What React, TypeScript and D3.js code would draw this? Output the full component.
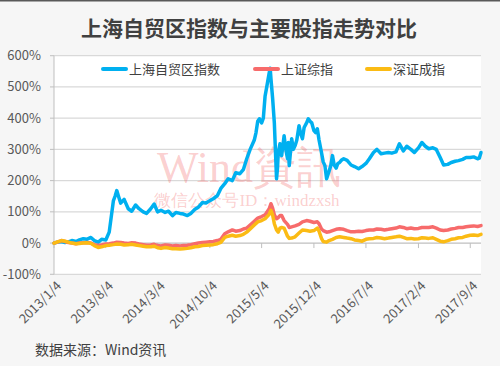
import React from "react";
import * as d3 from "d3";

const WIDTH = 500;
const HEIGHT = 366;
const PLOT = { left: 54, right: 481, top: 55.7, bottom: 274.3 };
const FONT = "'Noto Sans CJK SC', 'Noto Sans', sans-serif";

const TITLE = "上海自贸区指数与主要股指走势对比";
const SOURCE = "数据来源：Wind资讯";
const seriesNames = ["上海自贸区指数", "上证综指", "深证成指"];
const seriesColors = ["#00B0F0", "#F76B6B", "#FBBB14"];

const yTicks = [-100, 0, 100, 200, 300, 400, 500, 600];
const xTickDates = [
  "2013-01-04", "2013-08-04", "2014-03-04", "2014-10-04", "2015-05-04",
  "2015-12-04", "2016-07-04", "2017-02-04", "2017-09-04",
];

// 上海自贸区指数, cumulative change in %
const ftzDates = [
  "2013-01-04", "2013-01-18", "2013-02-04", "2013-02-18", "2013-03-04", "2013-03-18",
  "2013-04-04", "2013-04-18", "2013-05-04", "2013-05-18", "2013-06-04", "2013-06-18",
  "2013-07-04", "2013-07-18", "2013-08-04", "2013-08-18", "2013-09-04", "2013-09-11",
  "2013-09-18", "2013-09-25", "2013-10-04", "2013-10-18", "2013-11-04", "2013-11-18",
  "2013-12-04", "2013-12-18", "2014-01-04", "2014-01-18", "2014-02-04", "2014-02-18",
  "2014-03-04", "2014-03-18", "2014-04-04", "2014-04-18", "2014-05-04", "2014-05-18",
  "2014-06-04", "2014-06-18", "2014-07-04", "2014-07-18", "2014-08-04", "2014-08-18",
  "2014-09-04", "2014-09-18", "2014-10-04", "2014-10-18", "2014-11-04", "2014-11-18",
  "2014-12-04", "2014-12-18", "2015-01-04", "2015-01-18", "2015-02-04", "2015-02-18",
  "2015-03-04", "2015-03-18", "2015-04-04", "2015-04-11", "2015-04-18", "2015-04-25",
  "2015-05-04", "2015-05-11", "2015-05-18", "2015-05-25", "2015-06-04", "2015-06-08",
  "2015-06-11", "2015-06-18", "2015-06-25", "2015-07-04", "2015-07-08", "2015-07-11",
  "2015-07-18", "2015-07-25", "2015-08-04", "2015-08-11", "2015-08-18", "2015-08-21",
  "2015-08-25", "2015-09-04", "2015-09-11", "2015-09-18", "2015-09-25", "2015-10-04",
  "2015-10-11", "2015-10-18", "2015-10-25", "2015-11-04", "2015-11-11", "2015-11-18",
  "2015-11-25", "2015-12-04", "2015-12-11", "2015-12-18", "2015-12-25", "2016-01-04",
  "2016-01-11", "2016-01-18", "2016-01-25", "2016-02-04", "2016-02-11", "2016-02-18",
  "2016-02-25", "2016-03-04", "2016-03-11", "2016-03-18", "2016-03-25", "2016-04-04",
  "2016-04-18", "2016-05-04", "2016-05-18", "2016-06-04", "2016-06-18", "2016-07-04",
  "2016-07-18", "2016-08-04", "2016-08-18", "2016-09-04", "2016-09-18", "2016-10-04",
  "2016-10-18", "2016-11-04", "2016-11-18", "2016-12-04", "2016-12-18", "2017-01-04",
  "2017-01-18", "2017-02-04", "2017-02-18", "2017-03-04", "2017-03-18", "2017-04-04",
  "2017-04-18", "2017-05-04", "2017-05-18", "2017-06-04", "2017-06-18", "2017-07-04",
  "2017-07-18", "2017-08-04", "2017-08-18", "2017-09-04", "2017-09-18", "2017-10-04",
  "2017-10-11", "2017-10-18",
];
const ftzValues = [
  0, 3, 5, 2, 4, 8,
  5, 10, 14, 12, 18, 8,
  3, 12, 10, 35, 135, 150,
  168, 150, 128, 140, 110, 102,
  122, 110, 100, 95, 110, 125,
  100, 105, 98, 102, 88, 98,
  95, 93, 88, 95, 108, 115,
  130, 128, 136, 142, 152, 175,
  190, 206, 200, 225, 222, 235,
  270, 300, 330, 354, 390, 398,
  385, 400, 470, 500, 545, 560,
  527, 463, 385, 206, 240, 290,
  318, 280, 344, 300, 270, 322,
  248, 334, 300, 312, 330, 376,
  350, 334, 370, 385, 398, 390,
  385, 360, 354, 366, 330, 290,
  260, 248, 206, 230, 248, 280,
  250, 240, 255, 258, 265, 270,
  265, 250, 245, 238, 245, 255,
  270, 290, 300, 286, 288, 290,
  288, 292, 318, 295, 310, 300,
  290, 305, 322, 310, 302, 305,
  300, 274, 250, 252, 258, 262,
  264, 268, 274, 274, 276, 270,
  272, 290,
];

// 上证综指 / 深证成指, cumulative change in %
const idxDates = [
  "2013-01-04", "2013-01-18", "2013-02-04", "2013-02-18", "2013-03-04", "2013-03-18",
  "2013-04-04", "2013-04-18", "2013-05-04", "2013-05-18", "2013-06-04", "2013-06-18",
  "2013-07-04", "2013-07-18", "2013-08-04", "2013-08-18", "2013-09-04", "2013-09-18",
  "2013-10-04", "2013-10-18", "2013-11-04", "2013-11-18", "2013-12-04", "2013-12-18",
  "2014-01-04", "2014-01-18", "2014-02-04", "2014-02-18", "2014-03-04", "2014-03-18",
  "2014-04-04", "2014-04-18", "2014-05-04", "2014-05-18", "2014-06-04", "2014-06-18",
  "2014-07-04", "2014-07-18", "2014-08-04", "2014-08-18", "2014-09-04", "2014-09-18",
  "2014-10-04", "2014-10-18", "2014-11-04", "2014-11-18", "2014-12-04", "2014-12-18",
  "2015-01-04", "2015-01-18", "2015-02-04", "2015-02-18", "2015-03-04", "2015-03-18",
  "2015-04-04", "2015-04-18", "2015-05-04", "2015-05-18", "2015-06-04", "2015-06-11",
  "2015-06-18", "2015-06-25", "2015-07-04", "2015-07-11", "2015-07-18", "2015-07-25",
  "2015-08-04", "2015-08-18", "2015-08-25", "2015-09-04", "2015-09-18", "2015-10-04",
  "2015-10-18", "2015-11-04", "2015-11-18", "2015-12-04", "2015-12-18", "2015-12-25",
  "2016-01-04", "2016-01-11", "2016-01-25", "2016-02-04", "2016-02-18", "2016-03-04",
  "2016-03-18", "2016-04-04", "2016-04-18", "2016-05-04", "2016-05-18", "2016-06-04",
  "2016-06-18", "2016-07-04", "2016-07-18", "2016-08-04", "2016-08-18", "2016-09-04",
  "2016-09-18", "2016-10-04", "2016-10-18", "2016-11-04", "2016-11-18", "2016-12-04",
  "2016-12-18", "2017-01-04", "2017-01-18", "2017-02-04", "2017-02-18", "2017-03-04",
  "2017-03-18", "2017-04-04", "2017-04-18", "2017-05-04", "2017-05-18", "2017-06-04",
  "2017-06-18", "2017-07-04", "2017-07-18", "2017-08-04", "2017-08-18", "2017-09-04",
  "2017-09-18", "2017-10-04", "2017-10-18",
];
const shValues = [
  0, 3, 8, 5, 2, 0,
  -2, 0, 1, 2, 0, -5,
  -8, -6, -3, -2, 0, 3,
  2, 0, -1, 1, 0, -3,
  -5, -7, -6, -4, -8, -9,
  -6, -7, -9, -8, -9, -8,
  -7, -5, -2, 0, 2, 3,
  4, 5, 8, 12, 30, 36,
  42, 38, 40, 45, 48, 58,
  70, 80, 85, 90, 110, 126,
  112, 90, 78, 82, 88, 88,
  72, 60, 50, 52, 55, 60,
  68, 72, 70, 66, 68, 62,
  45, 40, 35, 36, 40, 44,
  46, 44, 40, 36, 36, 38,
  37, 40, 42, 42, 45, 44,
  42, 44, 46, 48, 52, 50,
  46, 48, 46, 47, 50, 50,
  50, 52, 48, 42, 40, 42,
  45, 47, 50, 50, 52, 54,
  55, 53, 56,
];
const szValues = [
  0, 4, 8, 6, 3, 0,
  -2, -1, 0, 1, -1, -8,
  -14, -12, -8, -7, -5, -3,
  -4, -6, -5, -4, -6, -8,
  -10, -12, -12, -10, -15, -17,
  -14, -16, -18, -18, -19, -18,
  -17, -15, -12, -11, -8, -7,
  -6, -5, -2, 2, 18, 22,
  25, 22, 24, 28, 35, 45,
  58, 68, 72, 78, 92, 105,
  90, 62, 42, 35, 48, 50,
  48, 22, 15, 16, 20, 32,
  42, 40, 38, 40, 48, 38,
  15, 5, 3, 8, 12, 18,
  20, 18, 16, 14, 10, 8,
  6, 12, 14, 15, 18, 16,
  14, 16, 18, 20, 22, 18,
  14, 15, 13, 14, 17, 16,
  15, 17, 12, 6, 4, 8,
  12, 14, 17, 18, 22, 25,
  26, 24, 28,
];

const parse = d3.timeParse("%Y-%m-%d");
const fmt = d3.timeFormat("%Y/%-m/%-d");

export default function App() {
  const x = d3
    .scaleTime()
    .domain([parse("2013-01-04")!, parse("2017-10-18")!])
    .range([PLOT.left, PLOT.right]);
  const y = d3.scaleLinear().domain([-100, 600]).range([PLOT.bottom, PLOT.top]);

  const line = d3
    .line<[Date, number]>()
    .x((d) => x(d[0]))
    .y((d) => y(d[1]));

  const ftz = ftzDates.map((d, i) => [parse(d)!, ftzValues[i]] as [Date, number]);
  const sh = idxDates.map((d, i) => [parse(d)!, shValues[i]] as [Date, number]);
  const sz = idxDates.map((d, i) => [parse(d)!, szValues[i]] as [Date, number]);
  const series = [ftz, sh, sz];

  const legendX = [103, 255, 367];

  return (
    <svg
      width={WIDTH}
      height={HEIGHT}
      style={{ position: "absolute", left: 0, top: 0 }}
      fontFamily={FONT}
    >
      <rect width={WIDTH} height={HEIGHT} fill="#f6f6f6" />
      <rect width={WIDTH} height={1.5} fill="#595959" />
      <rect
        x={PLOT.left}
        y={PLOT.top}
        width={PLOT.right - PLOT.left}
        height={PLOT.bottom - PLOT.top}
        fill="#ffffff"
      />

      <text x={249} y={36} textAnchor="middle" fontSize={21} fontWeight="bold" fill="#404040">
        {TITLE}
      </text>

      {/* grid + y axis */}
      {yTicks.map((t) => (
        <g key={t}>
          {t !== 0 && (
            <line x1={PLOT.left} x2={PLOT.right} y1={y(t)} y2={y(t)} stroke="#d9d9d9" strokeWidth={1.3} />
          )}
          <line x1={PLOT.left - 4} x2={PLOT.left} y1={y(t)} y2={y(t)} stroke="#bfbfbf" />
          <text x={41} y={y(t)} dy="0.35em" textAnchor="end" fontSize={13} fill="#595959">
            {t}%
          </text>
        </g>
      ))}
      <line x1={PLOT.left} x2={PLOT.left} y1={PLOT.top} y2={PLOT.bottom} stroke="#bfbfbf" />

      {/* watermark */}
      <g fill="#f25c5c" fillOpacity={0.3} fontFamily="'Liberation Serif', 'DejaVu Serif', serif">
        <text x={249} y={182} textAnchor="middle" fontSize={44}>
          Wind資訊
        </text>
        <text x={247} y={206} textAnchor="middle" fontSize={17}>
          微信公众号ID：windzxsh
        </text>
      </g>

      {/* x axis at 0% */}
      <line x1={PLOT.left} x2={PLOT.right} y1={y(0)} y2={y(0)} stroke="#bfbfbf" strokeWidth={1.3} />
      {xTickDates.map((d) => {
        const px = x(parse(d)!);
        return (
          <g key={d}>
            <line x1={px} x2={px} y1={y(0)} y2={y(0) + 5} stroke="#bfbfbf" />
            <text
              transform={`translate(${px + 5},${PLOT.bottom + 9}) rotate(-45)`}
              textAnchor="end"
              dy="0.35em"
              fontSize={13}
              fill="#595959"
            >
              {fmt(parse(d)!)}
            </text>
          </g>
        );
      })}

      {series.map((s, i) => (
        <path
          key={seriesNames[i]}
          d={line(s) ?? ""}
          fill="none"
          stroke={seriesColors[i]}
          strokeWidth={3.5}
          strokeLinejoin="round"
          strokeLinecap="round"
        />
      ))}

      {/* legend */}
      {seriesNames.map((n, i) => (
        <g key={n}>
          <line
            x1={legendX[i]}
            x2={legendX[i] + 23}
            y1={69}
            y2={69}
            stroke={seriesColors[i]}
            strokeWidth={4}
            strokeLinecap="round"
          />
          <text x={legendX[i] + 26} y={69} dy="0.35em" fontSize={13} fill="#404040">
            {n}
          </text>
        </g>
      ))}

      <text x={35} y={355} fontSize={14} fill="#404040">
        {SOURCE}
      </text>
    </svg>
  );
}
